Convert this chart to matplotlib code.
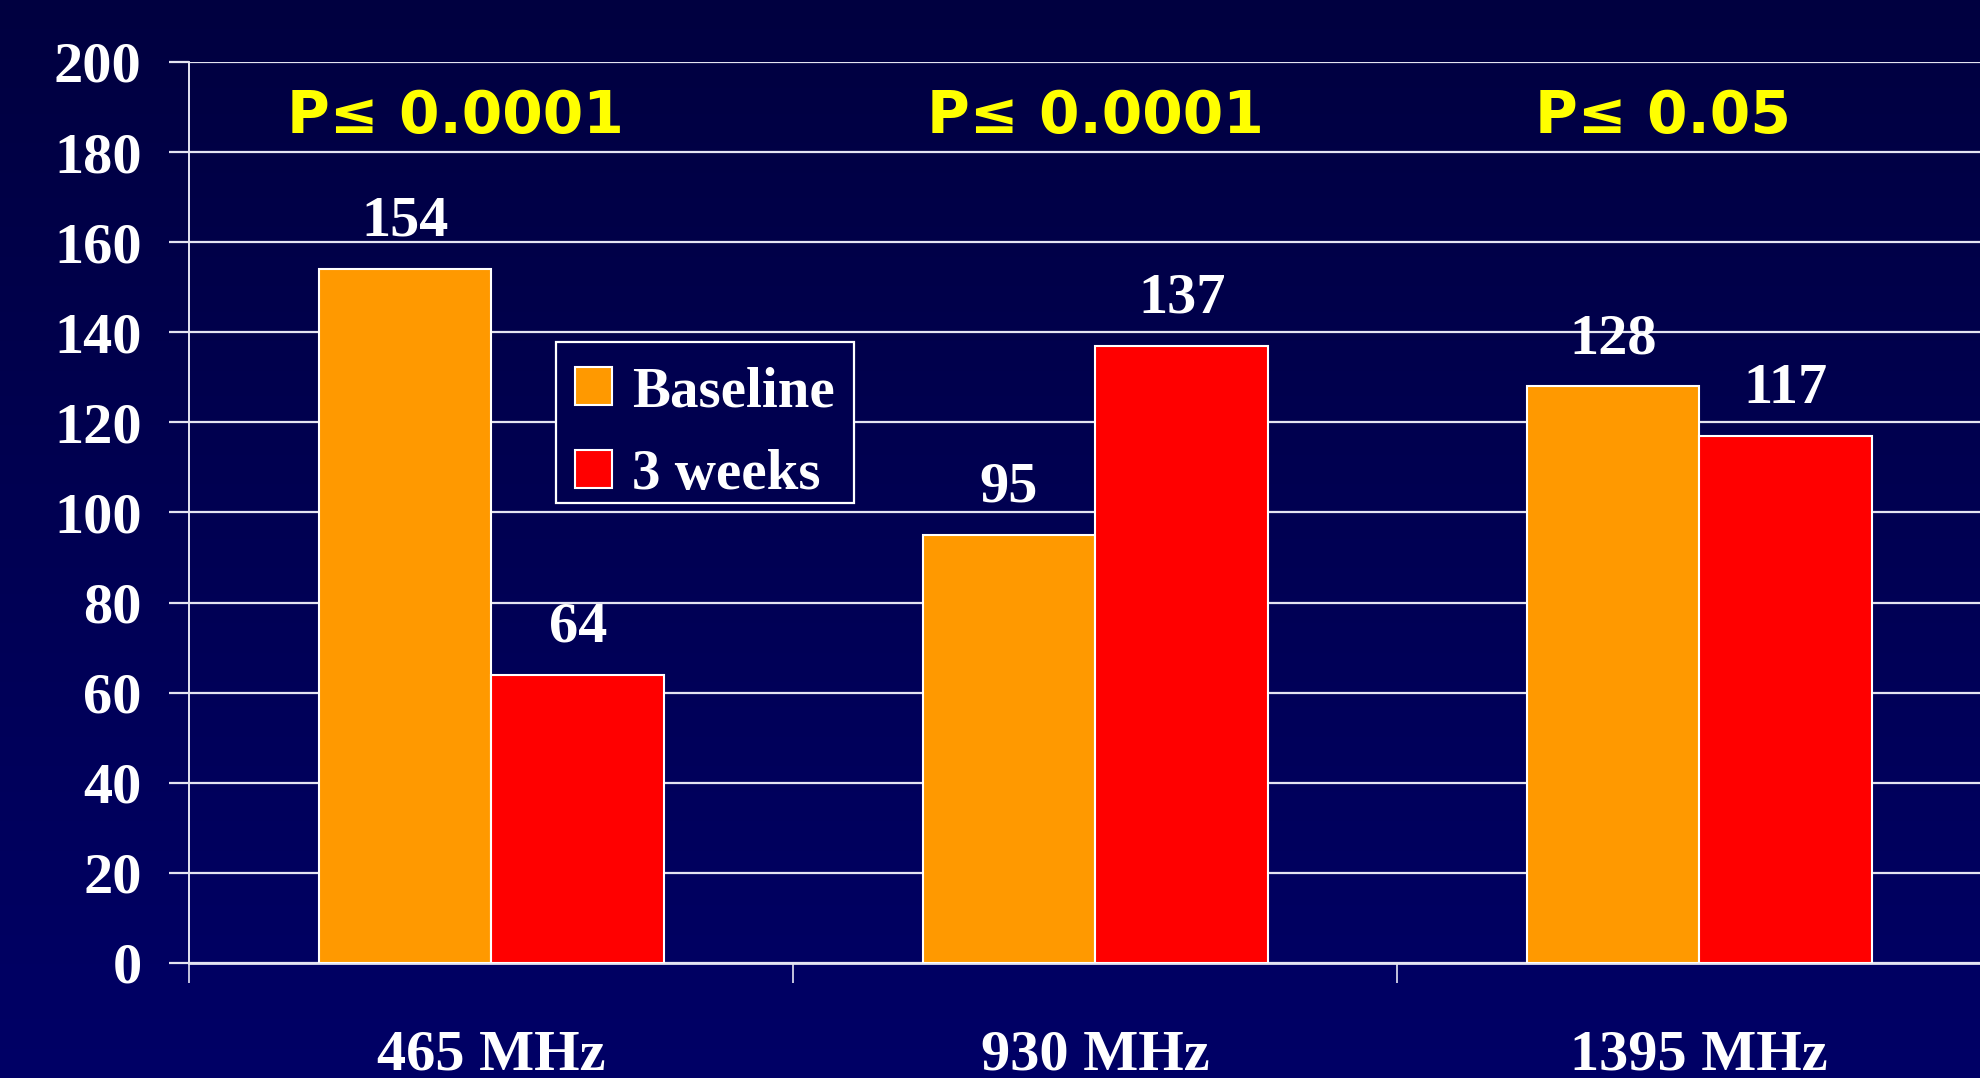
import numpy as np
import matplotlib
matplotlib.use("Agg")
import matplotlib.pyplot as plt
from matplotlib.colors import LinearSegmentedColormap
from matplotlib.patches import Rectangle

# Data
categories = ["465 MHz", "930 MHz", "1395 MHz"]
baseline = [154, 95, 128]
three_weeks = [64, 137, 117]
series_names = ["Baseline", "3 weeks"]
p_labels = ["P\u2264 0.0001", "P\u2264 0.0001", "P\u2264 0.05"]
p_xpos = [-0.06, 1.0, 1.94]
y_ticks = [0, 20, 40, 60, 80, 100, 120, 140, 160, 180, 200]

ORANGE = "#FF9900"
RED = "#FF0000"
GRID = "#e4e4f2"
SERIF = ["Liberation Serif", "DejaVu Serif"]

dpi = 100
fig = plt.figure(figsize=(19.8, 10.78), dpi=dpi)

# Background: dark navy vertical gradient
bg = fig.add_axes([0, 0, 1, 1], zorder=-10)
bg.axis("off")
cmap = LinearSegmentedColormap.from_list("navy", ["#000040", "#000066"])
grad = np.linspace(0, 1, 256).reshape(-1, 1)
bg.imshow(grad, aspect="auto", cmap=cmap, extent=[0, 1, 0, 1], origin="upper")

ax = fig.add_axes([0.0957, 0.1067, 0.915, 0.8358])
ax.set_facecolor("none")

x = np.arange(len(categories))
w = 0.286
ax.bar(x - w / 2, baseline, w, color=ORANGE, edgecolor="white", linewidth=1.5,
       label=series_names[0], zorder=3)
ax.bar(x + w / 2, three_weeks, w, color=RED, edgecolor="white", linewidth=1.5,
       label=series_names[1], zorder=3)

ax.set_xlim(-0.5, len(categories) - 0.5)
ax.set_ylim(0, 200)

# Value labels above bars
for xi, v in zip(x - w / 2, baseline):
    ax.annotate(str(v), (xi, v), xytext=(0, 24), textcoords="offset points",
                ha="center", va="baseline", color="white", fontsize=42,
                fontweight="bold", family=SERIF, zorder=5)
for xi, v in zip(x + w / 2, three_weeks):
    ax.annotate(str(v), (xi, v), xytext=(0, 24), textcoords="offset points",
                ha="center", va="baseline", color="white", fontsize=42,
                fontweight="bold", family=SERIF, zorder=5)

# Significance labels
for xp, lab in zip(p_xpos, p_labels):
    ax.text(xp, 187.8, lab, ha="center", va="center", color="#FFFF00",
            fontsize=42, fontweight="bold", family=["DejaVu Sans"], zorder=5)

# Grid and spines
ax.set_yticks(y_ticks)
ax.set_yticklabels([str(t) for t in y_ticks])
ax.yaxis.grid(True, color=GRID, linewidth=1.6, zorder=1)
ax.set_axisbelow(True)
for s in ["top", "right"]:
    ax.spines[s].set_visible(False)
ax.spines["left"].set_color(GRID)
ax.spines["left"].set_linewidth(1.4)
ax.spines["bottom"].set_color(GRID)
ax.spines["bottom"].set_linewidth(2.0)

ax.tick_params(axis="y", direction="out", length=14.4, width=1.6, color=GRID,
               labelcolor="white", labelsize=42, pad=20)
for t in ax.get_yticklabels():
    t.set_family(SERIF)
    t.set_fontweight("bold")

# Category boundaries get tick marks, centers get labels
ax.set_xticks(np.arange(len(categories) + 1) - 0.5)
ax.set_xticklabels([])
ax.set_xticks(x, minor=True)
ax.set_xticklabels(categories, minor=True)
ax.tick_params(axis="x", which="major", direction="out", length=14.4, width=1.2,
               color=GRID)
ax.tick_params(axis="x", which="minor", length=0, labelcolor="white",
               labelsize=42, pad=48)
for t in ax.get_xticklabels(minor=True):
    t.set_family(SERIF)
    t.set_fontweight("bold")

# Legend box drawn as a patch, entries placed inside it
box = Rectangle((0.2023, 0.5105), 0.3667 - 0.2023, 0.6893 - 0.5105,
                transform=ax.transAxes, facecolor="#00004f", edgecolor="white",
                linewidth=1.6, zorder=6)
ax.add_patch(box)
leg = ax.legend(loc="upper left", bbox_to_anchor=(0.2128, 0.6625), borderaxespad=0,
                frameon=False, handlelength=0.65, handleheight=0.65,
                handletextpad=0.35, labelspacing=0.54, borderpad=0,
                prop={"family": SERIF, "weight": "bold", "size": 41})
for txt in leg.get_texts():
    txt.set_color("white")
leg.set_zorder(7)

fig.savefig("out.png", dpi=dpi)
